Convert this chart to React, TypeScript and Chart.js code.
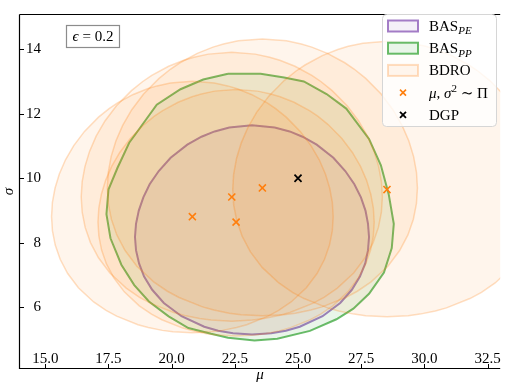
import React, { useEffect, useRef } from 'react';
import { Chart, registerables } from 'chart.js';

Chart.register(...registerables);

const FONT = "'Liberation Serif', 'DejaVu Serif', serif";

// axis ticks
const xTicks = [15, 17.5, 20, 22.5, 25, 27.5, 30, 32.5];
const yTicks = [6, 8, 10, 12, 14];

// BAS_PE region boundary (mu, sigma) (clockwise from the bottom)
const basPeMu = [23.18, 23.94, 24.52, 25.07, 25.97, 26.67, 27.13, 27.45, 27.66, 27.77, 27.81, 27.77, 27.67, 27.49, 27.23, 26.87, 26.40, 25.74, 25.18, 24.67, 24.08, 23.18, 22.28, 21.70, 21.18, 20.62, 19.96, 19.49, 19.13, 18.88, 18.70, 18.59, 18.55, 18.59, 18.71, 18.91, 19.23, 19.69, 20.39, 21.29, 21.84, 22.43];
const basPeSigma = [5.157, 5.194, 5.276, 5.399, 5.726, 6.135, 6.544, 6.953, 7.362, 7.771, 8.18, 8.589, 8.998, 9.407, 9.816, 10.225, 10.634, 11.043, 11.288, 11.452, 11.575, 11.644, 11.575, 11.452, 11.288, 11.043, 10.634, 10.225, 9.816, 9.407, 8.998, 8.589, 8.18, 7.771, 7.362, 6.953, 6.544, 6.135, 5.726, 5.399, 5.276, 5.194];

// BAS_PP region boundary (polygon)
const basPpMu = [22.23, 23.52, 24.45, 25.23, 26.13, 26.91, 27.81, 28.28, 28.59, 28.79, 28.71, 28.40, 27.81, 27.19, 26.52, 25.47, 24.18, 23.28, 22.23, 21.56, 20.66, 19.88, 19.10, 18.52, 18.01, 17.58, 17.42, 17.50, 17.85, 18.32, 18.71, 19.41, 20.35, 21.25];
const basPpSigma = [13.24, 13.24, 13.12, 13.00, 12.61, 12.16, 11.22, 10.40, 9.50, 8.59, 7.84, 7.08, 6.42, 5.96, 5.63, 5.27, 5.03, 4.97, 5.06, 5.18, 5.36, 5.72, 6.18, 6.69, 7.32, 8.14, 8.89, 9.65, 10.31, 11.10, 11.52, 12.28, 12.76, 13.06];

// prior samples (mu, sigma) and the data generating process
const priorMu = [20.82, 22.38, 22.55, 23.59, 28.52];
const priorSigma = [8.81, 9.42, 8.64, 9.70, 9.65];
const dgpMu = [25.0];
const dgpSigma = [10.0];

// BDRO ball outline around each sample, in units of that sample's sigma:
// sigma ratio and half-width (mu offset / sigma) for epsilon = 0.2
const bdroShapeR = [0.5915, 0.595, 0.60, 0.61, 0.62, 0.65, 0.67, 0.70, 0.75, 0.80, 0.85, 0.90, 0.95, 1.00, 1.05, 1.10, 1.15, 1.20, 1.25, 1.30, 1.35, 1.38, 1.40, 1.43, 1.45, 1.46, 1.47, 1.476];
const bdroShapeD = [0, 0.0871, 0.135, 0.1982, 0.244, 0.340, 0.3875, 0.4435, 0.512, 0.560, 0.5937, 0.6159, 0.6284, 0.6325, 0.6286, 0.6169, 0.5975, 0.5698, 0.5327, 0.4845, 0.4215, 0.374, 0.3361, 0.2653, 0.2016, 0.1587, 0.0985, 0];

const PURPLE = '148,103,189';
const GREEN = '44,160,44';
const ORANGE = '255,127,14';
const ORANGE_FILL_ALPHA = 0.08;

function closed(mu: number[], sg: number[]) {
  const pts = mu.map((m, i) => ({ x: m, y: sg[i] }));
  pts.push({ ...pts[0] });
  return pts;
}

function bdroOutline(m: number, s: number) {
  const n = bdroShapeR.length;
  const pts: { x: number; y: number }[] = [];
  for (let k = 0; k < n; k++) pts.push({ x: m + bdroShapeD[k] * s, y: bdroShapeR[k] * s });
  for (let k = n - 2; k >= 0; k--) pts.push({ x: m - bdroShapeD[k] * s, y: bdroShapeR[k] * s });
  return pts;
}

type Run = { t: string; it?: boolean; sub?: boolean; sup?: boolean };

function drawRuns(ctx: CanvasRenderingContext2D, runs: Run[], x: number, y: number, size: number, align: 'left' | 'center' = 'left') {
  const fontFor = (r: Run) => `${r.it ? 'italic ' : ''}${r.sub || r.sup ? Math.round(size * 0.72) : size}px ${FONT}`;
  let total = 0;
  runs.forEach((r) => {
    ctx.font = fontFor(r);
    total += ctx.measureText(r.t).width;
  });
  let cx = align === 'center' ? x - total / 2 : x;
  ctx.textBaseline = 'alphabetic';
  ctx.textAlign = 'left';
  runs.forEach((r) => {
    ctx.font = fontFor(r);
    const dy = r.sub ? size * 0.22 : r.sup ? -size * 0.38 : 0;
    ctx.fillText(r.t, cx, y + dy);
    cx += ctx.measureText(r.t).width;
  });
}

function drawCross(ctx: CanvasRenderingContext2D, x: number, y: number, h: number, color: string, lw: number) {
  ctx.save();
  ctx.strokeStyle = color;
  ctx.lineWidth = lw;
  ctx.beginPath();
  ctx.moveTo(x - h, y - h);
  ctx.lineTo(x + h, y + h);
  ctx.moveTo(x - h, y + h);
  ctx.lineTo(x + h, y - h);
  ctx.stroke();
  ctx.restore();
}

const framePlugin = {
  id: 'frame',
  afterDatasetsDraw(chart: any) {
    const { ctx, chartArea: a, scales } = chart;
    ctx.save();
    ctx.strokeStyle = '#000';
    ctx.lineWidth = 1.2;
    ctx.beginPath();
    ctx.moveTo(a.left - 0.5, a.top - 0.5);
    ctx.lineTo(a.right, a.top - 0.5);
    ctx.moveTo(a.left - 0.5, a.top - 0.5);
    ctx.lineTo(a.left - 0.5, a.bottom + 0.5);
    ctx.lineTo(a.right, a.bottom + 0.5);
    ctx.stroke();
    ctx.lineWidth = 1;
    ctx.beginPath();
    scales.x.ticks.forEach((t: any) => {
      const px = Math.round(scales.x.getPixelForValue(t.value)) + 0.5;
      ctx.moveTo(px, a.bottom);
      ctx.lineTo(px, a.bottom - 4);
    });
    scales.y.ticks.forEach((t: any) => {
      const py = Math.round(scales.y.getPixelForValue(t.value)) + 0.5;
      ctx.moveTo(a.left, py);
      ctx.lineTo(a.left + 4, py);
    });
    ctx.stroke();
    ctx.restore();
  },
  afterDraw(chart: any) {
    const { ctx } = chart;
    ctx.save();
    // epsilon box
    ctx.fillStyle = '#fff';
    ctx.fillRect(66, 25, 53, 22);
    ctx.strokeStyle = '#8c8c8c';
    ctx.lineWidth = 1.2;
    ctx.strokeRect(66.5, 25.5, 53, 22);
    ctx.fillStyle = '#000';
    drawRuns(ctx, [{ t: 'ϵ', it: true }, { t: ' = 0.2' }], 93, 41, 15, 'center');

    // legend box
    ctx.beginPath();
    ctx.roundRect(382.5, 14.5, 114, 112, 4);
    ctx.fillStyle = 'rgba(255,255,255,0.8)';
    ctx.fill();
    ctx.strokeStyle = '#d6d6d6';
    ctx.lineWidth = 1;
    ctx.stroke();

    const rows = [26, 48.2, 70.4, 92.6, 114.8];
    const patches = [
      { c: PURPLE, ea: 0.85, fa: 0.1 },
      { c: GREEN, ea: 0.7, fa: 0.1 },
      { c: ORANGE, ea: 0.25, fa: ORANGE_FILL_ALPHA },
    ];
    patches.forEach((p, i) => {
      ctx.fillStyle = '#fff';
      ctx.fillRect(388, rows[i] - 5.5, 30, 11);
      ctx.fillStyle = `rgba(${p.c},${p.fa})`;
      ctx.fillRect(388, rows[i] - 5.5, 30, 11);
      ctx.strokeStyle = `rgba(${p.c},${p.ea})`;
      ctx.lineWidth = 2;
      ctx.strokeRect(388, rows[i] - 5.5, 30, 11);
    });
    drawCross(ctx, 403, rows[3], 3, `rgb(${ORANGE})`, 1.6);
    drawCross(ctx, 403, rows[4], 3, '#000', 1.8);

    ctx.fillStyle = '#000';
    const labels: Run[][] = [
      [{ t: 'BAS' }, { t: 'PE', it: true, sub: true }],
      [{ t: 'BAS' }, { t: 'PP', it: true, sub: true }],
      [{ t: 'BDRO' }],
      [{ t: 'μ', it: true }, { t: ', ' }, { t: 'σ', it: true }, { t: '2', sup: true }, { t: ' ∼ Π' }],
      [{ t: 'DGP' }],
    ];
    labels.forEach((runs, i) => drawRuns(ctx, runs, 429, rows[i] + 5, 15));
    ctx.restore();
  },
};

export default function App() {
  const ref = useRef<HTMLCanvasElement>(null);
  useEffect(() => {
    const datasets: any[] = [
      {
        label: 'BAS_PE',
        data: closed(basPeMu, basPeSigma),
        borderColor: `rgba(${PURPLE},0.85)`,
        backgroundColor: `rgba(${PURPLE},0.1)`,
        fill: 'shape',
        borderWidth: 2,
        pointRadius: 0,
        tension: 0,
        order: 10,
      },
      {
        label: 'BAS_PP',
        data: closed(basPpMu, basPpSigma),
        borderColor: `rgba(${GREEN},0.7)`,
        backgroundColor: `rgba(${GREEN},0.1)`,
        fill: 'shape',
        borderWidth: 2,
        pointRadius: 0,
        tension: 0,
        order: 9,
      },
      ...priorMu.map((m, i) => ({
        label: 'BDRO',
        data: bdroOutline(m, priorSigma[i]),
        borderColor: `rgba(${ORANGE},0.25)`,
        backgroundColor: `rgba(${ORANGE},${ORANGE_FILL_ALPHA})`,
        fill: 'shape',
        borderWidth: 1.5,
        pointRadius: 0,
        tension: 0,
        order: 8,
      })),
      {
        label: 'prior',
        data: priorMu.map((m, i) => ({ x: m, y: priorSigma[i] })),
        showLine: false,
        pointStyle: 'crossRot',
        pointRadius: 5,
        pointBorderWidth: 1.6,
        pointBorderColor: `rgb(${ORANGE})`,
        borderColor: `rgb(${ORANGE})`,
        order: 1,
      },
      {
        label: 'DGP',
        data: dgpMu.map((m, i) => ({ x: m, y: dgpSigma[i] })),
        showLine: false,
        pointStyle: 'crossRot',
        pointRadius: 5,
        pointBorderWidth: 1.8,
        pointBorderColor: '#000',
        borderColor: '#000',
        order: 0,
      },
    ];
    const chart = new Chart(ref.current as HTMLCanvasElement, {
      type: 'line',
      data: { datasets },
      options: {
        animation: false,
        responsive: false,
        events: [],
        layout: { padding: { top: 6, left: 0, right: 0, bottom: 0 } },
        plugins: { legend: { display: false }, tooltip: { enabled: false } },
        scales: {
          x: {
            type: 'linear',
            min: 14,
            max: 33,
            afterBuildTicks: (s: any) => {
              s.ticks = xTicks.map((v) => ({ value: v }));
            },
            afterFit: (s: any) => {
              s.height = 16;
            },
            grid: { display: false },
            border: { display: false },
            ticks: {
              mirror: true,
              padding: 0,
              autoSkip: false,
              maxRotation: 0,
              color: '#000',
              font: { family: FONT, size: 15 },
              callback: (v: any) => Number(v).toFixed(1),
            },
            title: { display: true, text: 'μ', color: '#000', padding: 0, font: { family: FONT, size: 15, style: 'italic' } },
          },
          y: {
            type: 'linear',
            min: 4.12,
            max: 15.06,
            afterBuildTicks: (s: any) => {
              s.ticks = yTicks.map((v) => ({ value: v }));
            },
            afterFit: (s: any) => {
              s.width = 20;
            },
            grid: { display: false },
            border: { display: false },
            ticks: {
              mirror: true,
              padding: 6,
              crossAlign: 'far',
              color: '#000',
              font: { family: FONT, size: 15 },
              callback: (v: any) => String(v),
            },
            title: { display: true, text: 'σ', color: '#000', padding: 0, font: { family: FONT, size: 15, style: 'italic' } },
          },
        },
      },
      plugins: [framePlugin],
    } as any);
    return () => chart.destroy();
  }, []);
  return (
    <div style={{ position: 'absolute', left: 0, top: 0, width: 505, height: 384, overflow: 'hidden', background: '#fff' }}>
      <canvas ref={ref} width={507} height={384} style={{ display: 'block' }} />
    </div>
  );
}
